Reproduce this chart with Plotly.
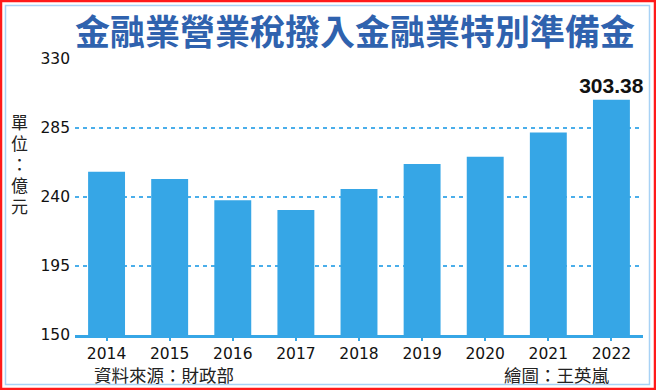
import plotly.graph_objects as go

years = ["2014", "2015", "2016", "2017", "2018", "2019", "2020", "2021", "2022"]
values = [256.4, 251.7, 237.8, 231.6, 245.2, 261.6, 266.2, 282.0, 303.38]
y_ticks = [150, 195, 240, 285, 330]
labelled = ["2022"]

title_text = "金融業營業稅撥入金融業特別準備金"
unit_text = "單位：億元"
source_text = "資料來源：財政部"
credit_text = "繪圖：王英嵐"

W, H = 656, 390
L, R, T, B = 75, 13, 59, 55
PW, PH = W - L - R, H - T - B

def px_x(x):
    return (x - L) / PW

def px_y(y):
    return (H - B - y) / PH

BAR = "#36a6e6"
GRID = "#4aaeea"
CJK = "Noto Sans CJK TC"

bar_text = ["<b>%.2f</b>" % v if yr in labelled else "" for yr, v in zip(years, values)]

fig = go.Figure()
fig.add_trace(go.Bar(
    x=years, y=values, marker=dict(color=BAR, line=dict(width=0)),
    text=bar_text, textposition="outside", cliponaxis=False,
    constraintext="none", textangle=0,
    textfont=dict(family="Liberation Sans", size=21, color="#111111"),
    hoverinfo="skip",
))

# title
fig.add_annotation(
    x=px_x(355), y=px_y(30), xref="paper", yref="paper",
    text="<b>" + title_text + "</b>", showarrow=False,
    xanchor="center", yanchor="middle",
    font=dict(family=CJK, size=35, color="#2f62ae"),
)
# unit (vertical), one character per row
for i, ch in enumerate(unit_text):
    fig.add_annotation(
        x=px_x(19), y=px_y(121 + 21 * i), xref="paper", yref="paper",
        text=ch, showarrow=False, xanchor="center", yanchor="middle",
        font=dict(family=CJK, size=17, color="#222222"),
    )
fig.add_annotation(
    x=px_x(92), y=px_y(374), xref="paper", yref="paper",
    text=source_text, showarrow=False, xanchor="left", yanchor="middle",
    font=dict(family=CJK, size=17.5, color="#222222"),
)
fig.add_annotation(
    x=px_x(612), y=px_y(374), xref="paper", yref="paper",
    text=credit_text, showarrow=False, xanchor="right", yanchor="middle",
    font=dict(family=CJK, size=17.5, color="#222222"),
)

# frame: red outer, light blue inner
fig.add_shape(type="rect", xref="paper", yref="paper",
              x0=px_x(1), x1=px_x(W - 1), y0=px_y(H - 1), y1=px_y(1),
              line=dict(color="#ff1a1a", width=2.5), layer="above")
fig.add_shape(type="rect", xref="paper", yref="paper",
              x0=px_x(5.5), x1=px_x(W - 6.5), y0=px_y(H - 5.5), y1=px_y(5.5),
              line=dict(color="#a8d2f5", width=1.5), layer="above")

fig.update_layout(
    width=W, height=H,
    margin=dict(l=L, r=R, t=T, b=B),
    paper_bgcolor="white", plot_bgcolor="white",
    showlegend=False, bargap=0.415,
    font=dict(family="DejaVu Sans", size=15.5, color="#111111"),
)
fig.update_xaxes(
    type="category",
    showgrid=False, showline=True, linecolor=BAR, linewidth=2.5,
    ticks="outside", ticklen=3, tickwidth=2, tickcolor=BAR,
    tickfont=dict(family="DejaVu Sans", size=15.5, color="#111111"),
    fixedrange=True,
)
fig.update_yaxes(
    range=[150, 330], tickvals=y_ticks, showgrid=True,
    gridcolor=GRID, gridwidth=1.5, griddash="4px,4px",
    zeroline=False, showline=False, ticks="", ticklabelstandoff=4,
    tickfont=dict(family="DejaVu Sans", size=15.5, color="#111111"),
    fixedrange=True,
)

fig.write_html(
    "out.html",
    config={"displayModeBar": False},
    post_script="document.body.style.margin='0';document.body.style.overflow='hidden';",
)
